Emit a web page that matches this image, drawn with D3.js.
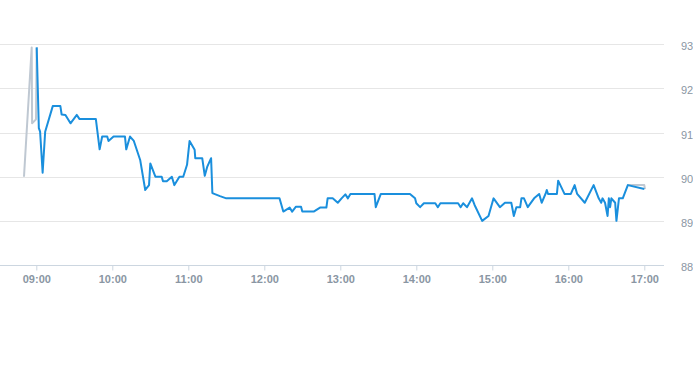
<!DOCTYPE html>
<html>
<head>
<meta charset="utf-8">
<script src="https://cdn.jsdelivr.net/npm/d3@7"></script>
<style>
  body { margin:0; background:#fff; }
  svg { display:block; font-family:"Liberation Sans", Arial, sans-serif; }
  .grid line { stroke:#e6e6e6; stroke-width:1; }
  .xax path, .xax line { stroke:#ccd6e0; }
  .xax text { fill:#8a96a3; font-size:11px; font-weight:bold; }
  .ylab { fill:#8a96a3; font-size:11px; }
</style>
</head>
<body>
<svg id="chart" width="693" height="365"></svg>
<script>
// price series (blue)
var times = ["09:00:19","09:02","09:03","09:05","09:07","09:13","09:19","09:20","09:23","09:27",
  "09:32","09:34","09:47","09:50","09:52","09:56","09:57","10:01","10:10","10:11",
  "10:14","10:17","10:22","10:26","10:29","10:30","10:34","10:39","10:40","10:43",
  "10:47","10:49","10:53","10:56","10:59","11:01","11:05","11:05:30","11:11","11:13",
  "11:15","11:18","11:19","11:25","11:30","12:12","12:15","12:20","12:22","12:25",
  "12:29","12:30","12:39","12:44","12:49","12:50","12:54","12:58","13:01","13:04",
  "13:06","13:08","13:27","13:28","13:32","13:55","13:59","14:00","14:03","14:06",
  "14:15","14:17","14:19","14:33","14:35","14:37","14:40","14:44","14:46","14:52",
  "14:57","15:01","15:06","15:10","15:15","15:17","15:19","15:22","15:23","15:25",
  "15:28","15:33","15:37","15:39","15:42","15:43","15:44","15:51","15:52","15:57",
  "16:02","16:05","16:07","16:13","16:20","16:24","16:26","16:27","16:29","16:31",
  "16:32","16:33","16:34","16:37","16:38","16:40","16:43","16:47","17:00"];
var prices = [92.93,91.10,91.02,90.09,91.02,91.60,91.60,91.41,91.40,91.21,
  91.40,91.31,91.31,90.62,90.91,90.91,90.81,90.91,90.91,90.62,
  90.91,90.81,90.38,89.70,89.81,90.30,90.00,90.00,89.90,89.90,
  90.00,89.81,90.00,90.00,90.27,90.81,90.61,90.42,90.42,90.02,
  90.23,90.42,89.63,89.56,89.51,89.51,89.21,89.30,89.21,89.32,
  89.32,89.21,89.21,89.30,89.30,89.51,89.51,89.41,89.51,89.60,
  89.51,89.61,89.61,89.31,89.61,89.61,89.51,89.40,89.31,89.40,
  89.40,89.31,89.40,89.40,89.31,89.40,89.31,89.51,89.36,89.00,
  89.11,89.51,89.31,89.41,89.41,89.11,89.31,89.31,89.51,89.51,
  89.31,89.51,89.61,89.41,89.61,89.70,89.61,89.61,89.91,89.61,
  89.61,89.81,89.61,89.41,89.81,89.51,89.41,89.51,89.41,89.11,
  89.51,89.31,89.51,89.41,89.00,89.51,89.51,89.81,89.72];

// grey reference line, visible only where it leaves the blue one
var grayHeadTimes = ["08:50:17","08:56:22","08:56:40","08:59:46","09:00:19"];
var grayHeadValues = [90.00,92.93,91.21,91.30,92.93];
var grayTailTimes = ["16:47","17:00","17:00:30"];
var grayTailValues = [89.81,89.81,89.72];

var yTicks = [88,89,90,91,92,93];
var xTickLabels = ["09:00","10:00","11:00","12:00","13:00","14:00","15:00","16:00","17:00"];

var svg = d3.select("#chart");
var parse = function(s){
  var p = s.split(":");
  return new Date(2020,0,1,+p[0],+p[1],p[2]?+p[2]:0);
};

var x = d3.scaleTime()
  .domain([parse("09:00"), parse("17:00")])
  .range([36.3, 644.3]);
var y = d3.scaleLinear()
  .domain([88, 93])
  .range([265, 44.3]);

// grid
svg.append("g").attr("class","grid")
  .selectAll("line").data(yTicks.filter(function(d){ return d>88; }))
  .enter().append("line")
  .attr("x1",0).attr("x2",664)
  .attr("y1",function(d){ return Math.round(y(d))+0.5; })
  .attr("y2",function(d){ return Math.round(y(d))+0.5; });

// x axis
var xAxis = d3.axisBottom(x)
  .tickValues(xTickLabels.map(parse))
  .tickFormat(d3.timeFormat("%H:%M"))
  .tickSize(5).tickPadding(5);
var gx = svg.append("g").attr("class","xax")
  .attr("transform","translate(0,265.5)")
  .call(xAxis);
gx.select(".domain").attr("d","M0,0H664");

// y labels on the right
svg.append("g").selectAll("text").data(yTicks)
  .enter().append("text")
  .attr("class","ylab")
  .attr("x",681)
  .attr("y",function(d){ return y(d)+6; })
  .text(function(d){ return d; });

var line = d3.line()
  .x(function(d){ return x(parse(d[0])); })
  .y(function(d){ return y(d[1]); });

var grayStyle = function(p){
  p.attr("fill","none").attr("stroke","#bfc8d2").attr("stroke-width",2).attr("stroke-linejoin","round");
};
svg.append("path").datum(d3.zip(grayHeadTimes, grayHeadValues)).attr("d",line).call(grayStyle);
svg.append("path").datum(d3.zip(grayTailTimes, grayTailValues)).attr("d",line).call(grayStyle);

svg.append("path")
  .datum(d3.zip(times, prices))
  .attr("d",line)
  .attr("fill","none")
  .attr("stroke","#1a8fdd")
  .attr("stroke-width",2)
  .attr("stroke-linejoin","round");
</script>
</body>
</html>
